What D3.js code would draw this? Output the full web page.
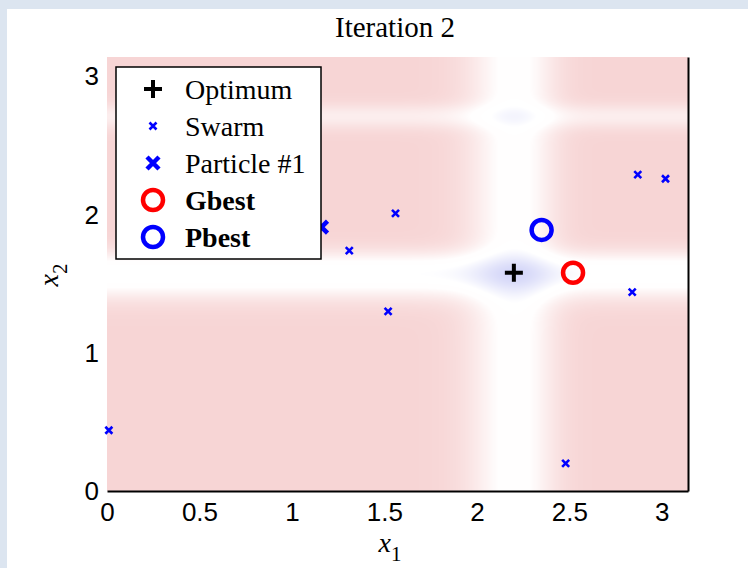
<!DOCTYPE html>
<html>
<head>
<meta charset="utf-8">
<script src="https://cdn.jsdelivr.net/npm/d3@7"></script>
<style>
  html, body { margin: 0; padding: 0; background: #dce5f0; }
  svg { display: block; }
</style>
</head>
<body>
<svg width="748" height="568"></svg>
<script>
// swarm positions (x1, x2) for iteration 2
const swarmX1 = [0.01, 1.16, 1.31, 1.56, 1.52, 2.48, 2.87, 3.02, 2.84];
const swarmX2 = [0.44, 1.91, 1.74, 2.01, 1.30, 0.20, 2.29, 2.26, 1.44];
const particle1 = [1.16, 1.91];
const optimum = [2.20, 1.58];
const gbest = [2.52, 1.58];
const pbest = [2.35, 1.89];
const xTicks = [0, 0.5, 1, 1.5, 2, 2.5, 3];
const yTicks = [0, 1, 2, 3];
const legendLabels = ["Optimum", "Swarm", "Particle #1", "Gbest", "Pbest"];

const svg = d3.select("svg");
const L = 107, R = 688, T = 57, B = 491;

const x = d3.scaleLinear().domain([0, Math.PI]).range([L, R]);
const y = d3.scaleLinear().domain([0, Math.PI]).range([B, T]);

// figure panel
svg.append("rect").attr("x", 7).attr("y", 9).attr("width", 741).attr("height", 559).attr("fill", "white");

// Michalewicz function as background field
function mich(a, b) {
    return -Math.sin(a) * Math.pow(Math.sin(a * a / Math.PI), 20)
           - Math.sin(b) * Math.pow(Math.sin(2 * b * b / Math.PI), 20);
}
const color = d3.scaleLinear()
    .domain([-1.8, -1.0, -0.7, 0])
    .range(["rgb(212,214,248)", "rgb(255,255,255)", "rgb(255,254,254)", "rgb(247,213,213)"])
    .clamp(true);

const cw = R - L, ch = B - T;
const canvas = document.createElement("canvas");
canvas.width = cw; canvas.height = ch;
const ctx = canvas.getContext("2d");
const img = ctx.createImageData(cw, ch);
for (let j = 0; j < ch; j++) {
    for (let i = 0; i < cw; i++) {
        const c = d3.rgb(color(mich(x.invert(L + i + 0.5), y.invert(T + j + 0.5))));
        const k = (j * cw + i) * 4;
        img.data[k] = c.r; img.data[k + 1] = c.g; img.data[k + 2] = c.b; img.data[k + 3] = 255;
    }
}
ctx.putImageData(img, 0, 0);
svg.append("image")
    .attr("x", L).attr("y", T)
    .attr("width", cw).attr("height", ch)
    .attr("href", canvas.toDataURL());

// axes
const xAxis = svg.append("g")
    .attr("transform", `translate(0,${B})`)
    .call(d3.axisBottom(x).tickValues(xTicks).tickSize(0).tickPadding(12).tickFormat(d3.format("")));
xAxis.select(".domain").attr("stroke", "#000").attr("stroke-width", 2);

const yAxis = svg.append("g")
    .attr("transform", `translate(${L},0)`)
    .call(d3.axisLeft(y).tickValues(yTicks).tickSize(0).tickPadding(8).tickFormat(d3.format("")));
yAxis.select(".domain").remove();

svg.append("g")
    .attr("transform", `translate(${R},0)`)
    .call(d3.axisRight(y).tickValues([]).tickSizeOuter(0))
    .select(".domain").attr("stroke", "#000").attr("stroke-width", 2);

svg.selectAll(".tick text")
    .attr("font-family", "Liberation Sans, Arial, sans-serif")
    .attr("font-size", 26)
    .attr("fill", "#000");

// title and axis labels
svg.append("text")
    .attr("x", 395).attr("y", 37)
    .attr("text-anchor", "middle")
    .attr("font-family", "Liberation Serif, Times New Roman, serif")
    .attr("font-size", 29)
    .text("Iteration 2");

const xl = svg.append("text")
    .attr("x", 390).attr("y", 552)
    .attr("text-anchor", "middle")
    .attr("font-family", "Liberation Serif, Times New Roman, serif")
    .attr("font-size", 28);
xl.append("tspan").attr("font-style", "italic").text("x");
xl.append("tspan").attr("dy", 9).attr("font-size", 21).text("1");

const yl = svg.append("text")
    .attr("transform", "translate(58,275) rotate(-90)")
    .attr("text-anchor", "middle")
    .attr("font-family", "Liberation Serif, Times New Roman, serif")
    .attr("font-size", 28);
yl.append("tspan").attr("font-style", "italic").text("x");
yl.append("tspan").attr("dy", 9).attr("font-size", 21).text("2");

// marker paths
const plusPath = r => `M${-r},0H${r}M0,${-r}V${r}`;
const timesPath = r => `M${-r},${-r}L${r},${r}M${-r},${r}L${r},${-r}`;

const swarm = swarmX1.map((v, i) => [v, swarmX2[i]]);
svg.append("g").selectAll("path")
    .data(swarm)
    .join("path")
    .attr("transform", d => `translate(${x(d[0])},${y(d[1])})`)
    .attr("d", timesPath(3.5))
    .attr("stroke", "#0000ff").attr("stroke-width", 2.6).attr("fill", "none");

svg.append("path")
    .attr("transform", `translate(${x(particle1[0])},${y(particle1[1])})`)
    .attr("d", timesPath(6))
    .attr("stroke", "#0000ff").attr("stroke-width", 4.5).attr("fill", "none");

svg.append("path")
    .attr("transform", `translate(${x(optimum[0])},${y(optimum[1])})`)
    .attr("d", plusPath(9))
    .attr("stroke", "#000").attr("stroke-width", 4).attr("fill", "none");

svg.append("circle")
    .attr("cx", x(gbest[0])).attr("cy", y(gbest[1])).attr("r", 10)
    .attr("stroke", "#ff0000").attr("stroke-width", 4.5).attr("fill", "none");

svg.append("circle")
    .attr("cx", x(pbest[0])).attr("cy", y(pbest[1])).attr("r", 10)
    .attr("stroke", "#0000ff").attr("stroke-width", 4.5).attr("fill", "none");

// legend
const lg = svg.append("g");
lg.append("rect")
    .attr("x", 116).attr("y", 67).attr("width", 205).attr("height", 192)
    .attr("fill", "white").attr("stroke", "#000").attr("stroke-width", 1.5);

const rowY = d3.scalePoint().domain(legendLabels).range([89, 237]);
const symX = 153;
const items = [
    g => g.append("path").attr("d", plusPath(9)).attr("stroke", "#000").attr("stroke-width", 4).attr("fill", "none"),
    g => g.append("path").attr("d", timesPath(3.5)).attr("stroke", "#0000ff").attr("stroke-width", 2.6).attr("fill", "none"),
    g => g.append("path").attr("d", timesPath(6)).attr("stroke", "#0000ff").attr("stroke-width", 4.5).attr("fill", "none"),
    g => g.append("circle").attr("r", 10).attr("stroke", "#ff0000").attr("stroke-width", 4.5).attr("fill", "none"),
    g => g.append("circle").attr("r", 10).attr("stroke", "#0000ff").attr("stroke-width", 4.5).attr("fill", "none")
];
legendLabels.forEach((lab, i) => {
    const g = lg.append("g").attr("transform", `translate(${symX},${rowY(lab)})`);
    items[i](g);
    lg.append("text")
        .attr("x", 185).attr("y", rowY(lab))
        .attr("dy", "0.35em")
        .attr("font-family", "Liberation Serif, Times New Roman, serif")
        .attr("font-size", 28)
        .attr("font-weight", i >= 3 ? "bold" : "normal")
        .text(lab);
});
</script>
</body>
</html>
